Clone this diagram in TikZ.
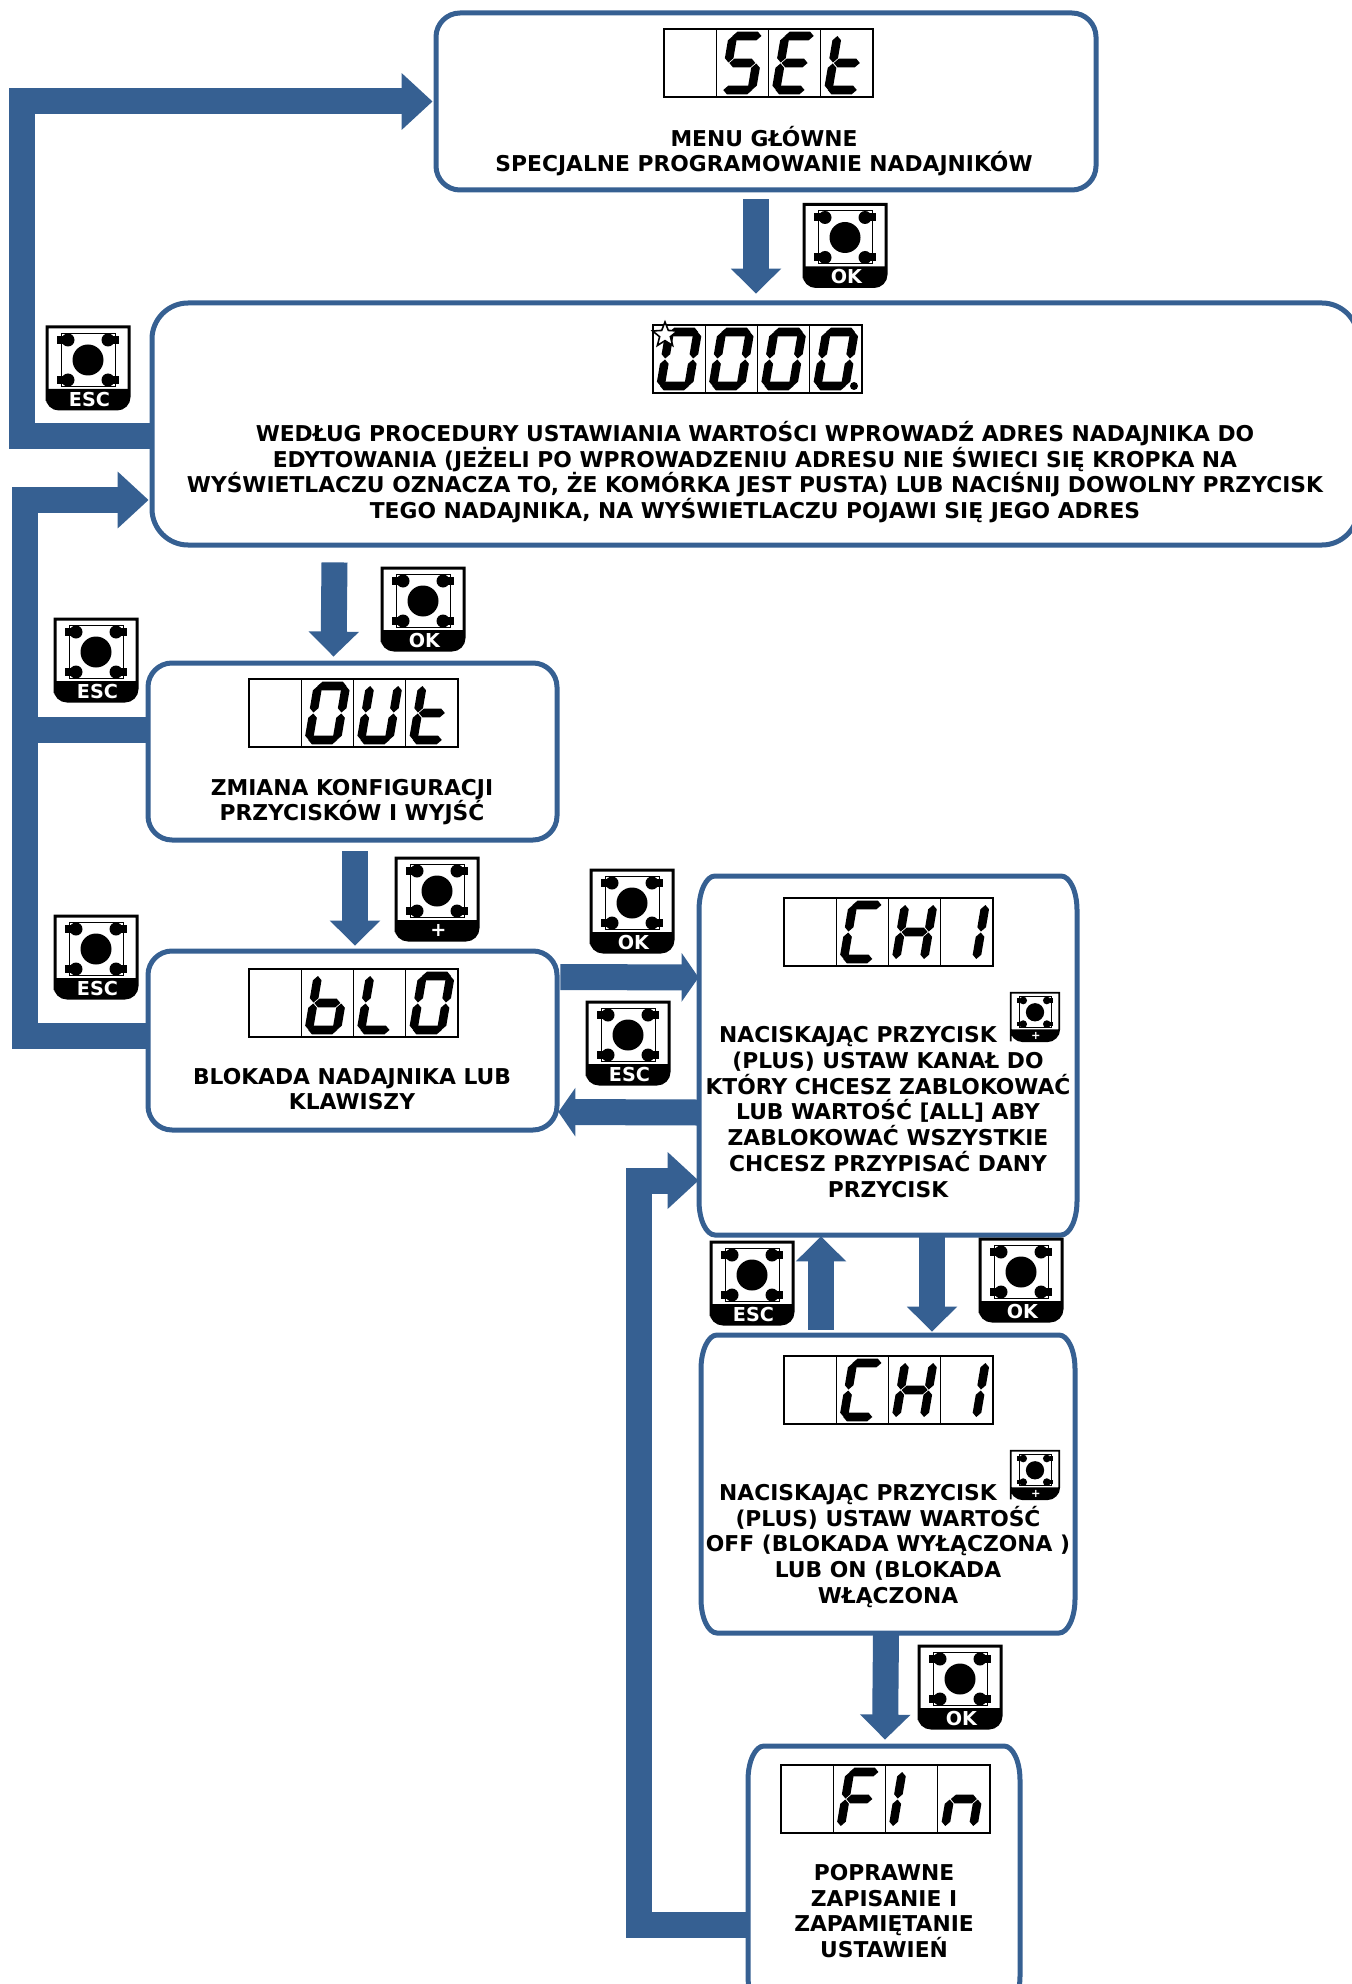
\documentclass[tikz,border=0pt]{standalone}
\usepackage{fontspec}
\setmainfont{DejaVu Sans}
\usetikzlibrary{arrows.meta,shapes.geometric}

\definecolor{flowblue}{RGB}{54,96,146}

% segmenty wyswietlacza
\newcommand{\hseg}[3]{\fill (#1,#3) -- (#1+4.3,#3-4.3) -- (#2-4.3,#3-4.3) -- (#2,#3) -- (#2-4.3,#3+4.3) -- (#1+4.3,#3+4.3) -- cycle;}
\newcommand{\vseg}[3]{\fill (#1,#2) -- (#1+4.3,#2+4.3) -- (#1+4.3,#3-4.3) -- (#1,#3) -- (#1-4.3,#3-4.3) -- (#1-4.3,#2+4.3) -- cycle;}
\newcommand{\sega}{\hseg{-14.5}{14.5}{-27}}
\newcommand{\segb}{\vseg{14}{-27}{-0.5}}
\newcommand{\segc}{\vseg{14}{0.5}{27}}
\newcommand{\segd}{\hseg{-14.5}{14.5}{27}}
\newcommand{\sege}{\vseg{-14}{0.5}{27}}
\newcommand{\segf}{\vseg{-14}{-27}{-0.5}}
\newcommand{\segg}{\hseg{-13}{13}{0}}

% znaki
\newcommand{\ledN}{x}
\newcommand{\ledS}{a,f,g,c,d}
\newcommand{\ledE}{a,f,g,e,d}
\newcommand{\ledT}{f,g,e,d}
\newcommand{\ledO}{a,b,c,d,e,f}
\newcommand{\ledU}{b,c,d,e,f}
\newcommand{\ledB}{f,g,e,c,d}
\newcommand{\ledL}{f,e,d}
\newcommand{\ledC}{a,f,e,d}
\newcommand{\ledH}{b,c,e,f,g}
\newcommand{\ledJ}{b,c}
\newcommand{\ledF}{a,f,g,e}
\newcommand{\ledI}{e,f}
\newcommand{\ledn}{g,e,c}

\newcommand{\dispcell}[3]{
    \draw [line width=0.55pt] (#1,#2) rectangle (#1+52.25,#2+68);
    \begin{scope}[shift={(#1+26.1,#2+34)},xslant=0.17]
        \foreach \s in #3 {\csname seg\s\endcsname}
    \end{scope}
}
\newcommand{\segdisplay}[6]{
    \dispcell{#1}{#2}{#3}
    \dispcell{#1+52.25}{#2}{#4}
    \dispcell{#1+104.5}{#2}{#5}
    \dispcell{#1+156.75}{#2}{#6}
}

% ramka: nazwa, x1, y1, x2, y2, promienie
\newcommand{\menubox}[7]{
    \draw [flowblue,line width=2.5pt]
        (#2,#3+#7) .. controls (#2,#3+0.45*#7) and (#2+0.45*#6,#3) .. (#2+#6,#3)
        -- (#4-#6,#3) .. controls (#4-0.45*#6,#3) and (#4,#3+0.45*#7) .. (#4,#3+#7)
        -- (#4,#5-#7) .. controls (#4,#5-0.45*#7) and (#4-0.45*#6,#5) .. (#4-#6,#5)
        -- (#2+#6,#5) .. controls (#2+0.45*#6,#5) and (#2,#5-0.45*#7) .. (#2,#5-#7)
        -- cycle;
    \node [inner sep=0pt,minimum width={(#4-#2)*0.5pt},minimum height={(#5-#3)*0.5pt}]
        (#1) at ({(#2+#4)/2},{(#3+#5)/2}) {};
}

\tikzset{
    msg/.style={inner sep=0pt,align=center,font=\fontsize{10.9}{12.9}\selectfont\bfseries},
    keylabel/.style={inner sep=0pt,text=white,font=\fontsize{9.6}{10}\selectfont\bfseries},
    bigkey/.style={line width=1.5pt},
    minikey/.style={scale=0.59,transform shape,line width=0.9pt},
    flowarrow/.style={flowblue,line width=13pt,-{Triangle[length=12.5pt,width=24.5pt]}},
    shortarrow/.style={flowblue,line width=13pt,-{Triangle[length=8.5pt,width=24pt]}},
    elbowarrow/.style={flowblue,line width=13pt,-{Triangle[length=15.5pt,width=27.5pt]}},
    flowline/.style={flowblue,line width=13pt},
    pics/keybtn/.style={code={
        \draw [fill=white,rounded corners=6pt] (-41,21) [sharp corners] -- (-41,-41) -- (41,-41) -- (41,21) [rounded corners=6pt] -- (41,41) -- (-41,41) -- cycle;
        \fill (-41,21) [rounded corners=6pt] -- (-41,41) -- (41,41) [sharp corners] -- (41,21) -- cycle;
        \draw [line width=0.4\pgflinewidth] (-27,-35) rectangle (27,18);
        \fill (0,-8) circle (15.5);
        \foreach \kx in {-20,20} \foreach \ky in {-28,12} {
            \fill (\kx,\ky) circle (6.5);
            \fill (\kx*1.4-3,\ky-4) rectangle (\kx*1.4+3,\ky+4);
        }
        \node [keylabel] (-lab) at (1.5,31.5) {#1};
    }}
}

\begin{document}
\begin{tikzpicture}[x=0.5pt,y=-0.5pt]
    \useasboundingbox (0,0) rectangle (1352,1984);
    \clip (0,0) rectangle (1352,1984);

    % ramki
    \menubox{boxset}{436}{13}{1096}{190}{24}{24}
    \menubox{boxadres}{152}{303}{1358}{545}{36}{36}
    \menubox{boxout}{148}{663}{557}{840}{24}{24}
    \menubox{boxblo}{148}{951}{557}{1130}{24}{24}
    \menubox{boxcha}{699}{876}{1077}{1235}{16}{34}
    \menubox{boxchb}{701}{1335}{1075}{1633}{16}{34}
    \menubox{boxfin}{748}{1746}{1020}{2010}{16}{34}

    % wyswietlacze
    \segdisplay{664}{29}{\ledN}{\ledS}{\ledE}{\ledT}
    \segdisplay{653}{325}{\ledO}{\ledO}{\ledO}{\ledO}
    \segdisplay{249}{679}{\ledN}{\ledO}{\ledU}{\ledT}
    \segdisplay{249}{969}{\ledN}{\ledB}{\ledL}{\ledO}
    \segdisplay{784}{898}{\ledN}{\ledC}{\ledH}{\ledJ}
    \segdisplay{784}{1356}{\ledN}{\ledC}{\ledH}{\ledJ}
    \segdisplay{781}{1765}{\ledN}{\ledF}{\ledI}{\ledn}
    \node [star,star points=5,star point ratio=2.3,draw,line width=0.8pt,fill=white,inner sep=0pt,minimum size=13pt] (starzero) at (665,335) {};
    \fill (854,386) circle (4);

    % opisy
    \node [msg] (msgset) at (764,151) {MENU GŁÓWNE\\SPECJALNE PROGRAMOWANIE NADAJNIKÓW};
    \node [msg] (msgadres) at (755,472) {WEDŁUG PROCEDURY USTAWIANIA WARTOŚCI WPROWADŹ ADRES NADAJNIKA DO\\EDYTOWANIA (JEŻELI PO WPROWADZENIU ADRESU NIE ŚWIECI SIĘ KROPKA NA\\WYŚWIETLACZU OZNACZA TO, ŻE KOMÓRKA JEST PUSTA) LUB NACIŚNIJ DOWOLNY PRZYCISK\\TEGO NADAJNIKA, NA WYŚWIETLACZU POJAWI SIĘ JEGO ADRES};
    \node [msg] (msgout) at (352,802) {ZMIANA KONFIGURACJI\\PRZYCISKÓW I WYJŚĆ};
    \node [msg] (msgblo) at (352,1089) {BLOKADA NADAJNIKA LUB\\KLAWISZY};
    \node [msg] (msgcha) at (888,1112) {NACISKAJĄC PRZYCISK\rule{30pt}{0pt}\\(PLUS) USTAW KANAŁ DO\\KTÓRY CHCESZ ZABLOKOWAĆ\\LUB WARTOŚĆ [ALL] ABY\\ZABLOKOWAĆ WSZYSTKIE\\CHCESZ PRZYPISAĆ DANY\\PRZYCISK};
    \node [msg] (msgchb) at (888,1546) {NACISKAJĄC PRZYCISK\rule{30pt}{0pt}\\(PLUS) USTAW WARTOŚĆ\\OFF (BLOKADA WYŁĄCZONA )\\LUB ON (BLOKADA\\WŁĄCZONA};
    \node [msg] (msgfin) at (884,1911) {POPRAWNE\\ZAPISANIE I\\ZAPAMIĘTANIE\\USTAWIEŃ};

    % przyciski
    \pic [bigkey] (keyoka) at (845,245.5) {keybtn=OK};
    \pic [bigkey] (keyesca) at (88,368) {keybtn=ESC};
    \pic [bigkey] (keyokb) at (423,609) {keybtn=OK};
    \pic [bigkey] (keyescb) at (96,660) {keybtn=ESC};
    \pic [bigkey] (keyplus) at (437,899) {keybtn=+};
    \pic [bigkey] (keyescc) at (96,957) {keybtn=ESC};
    \pic [bigkey] (keyokc) at (632,911) {keybtn=OK};
    \pic [bigkey] (keyescd) at (628,1043) {keybtn=ESC};
    \pic [bigkey] (keyesce) at (752,1283) {keybtn=ESC};
    \pic [bigkey] (keyokd) at (1021,1280) {keybtn=OK};
    \pic [bigkey] (keyoke) at (960,1687) {keybtn=OK};
    \pic [minikey] (keyminia) at (1035,1017) {keybtn=+};
    \pic [minikey] (keyminib) at (1035,1475) {keybtn=+};

    % strzalki
    \coordinate (railesc) at (22,270);
    \coordinate (railout) at (25,800);
    \coordinate (railfin) at (639,1500);

    \draw [elbowarrow] ([shift={(0,12.5)}]boxadres.west) -| (railesc) |- ([shift={(-3,0)}]boxset.west);
    \draw [elbowarrow] ([shift={(0,-4.5)}]boxblo.west) -| (railout) |- ([shift={(-3,76)}]boxadres.west);
    \draw [flowline] ([shift={(0,-21.5)}]boxout.west) -| (railout);
    \draw [elbowarrow] ([shift={(0,47)}]boxfin.west) -| (railfin) |- ([shift={(0,125)}]boxcha.west);

    \draw [flowarrow] ([shift={(-10,9)}]boxset.south) -- ([shift={(1,-9)}]boxadres.north);
    \draw [flowarrow] ([shift={(-420.5,17)}]boxadres.south) -- ([shift={(-19,-6)}]boxout.north);
    \draw [flowarrow] ([shift={(2.5,11)}]boxout.south) -- ([shift={(2.5,-5)}]boxblo.north);
    \draw [shortarrow] ([shift={(3,-63.5)}]boxblo.east) -- ([shift={(0,-78)}]boxcha.west);
    \draw [shortarrow] ([shift={(0,57)}]boxcha.west) -- ([shift={(1,71.5)}]boxblo.east);
    \draw [flowarrow] ([shift={(44,2)}]boxcha.south) -- ([shift={(44,-3)}]boxchb.north);
    \draw [flowarrow] ([shift={(-67,-5)}]boxchb.north) -- ([shift={(-67,1)}]boxcha.south);
    \draw [flowarrow] ([shift={(-2,1)}]boxchb.south) -- ([shift={(1,-6)}]boxfin.north);
\end{tikzpicture}
\end{document}
